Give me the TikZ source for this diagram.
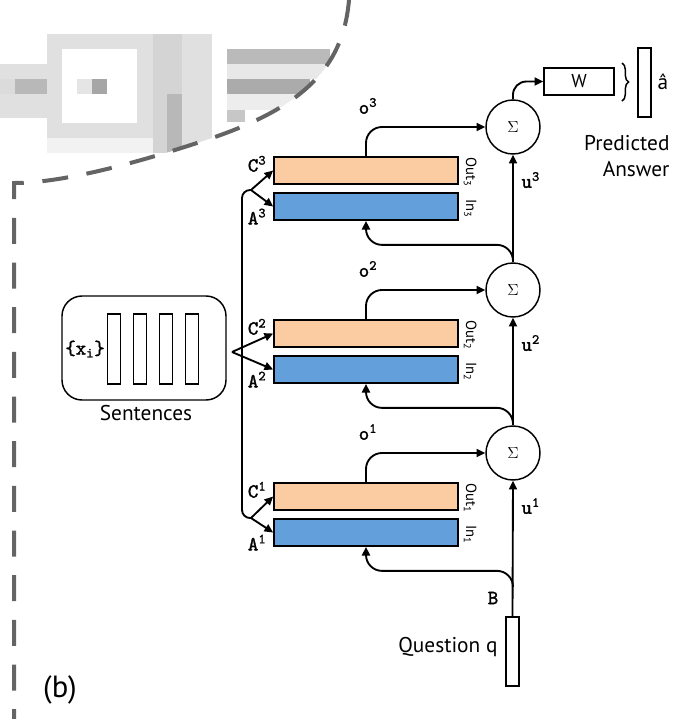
\documentclass[tikz,border=0pt]{standalone}
\usepackage{fontspec}
\setmainfont{PT Sans}
\newfontfamily\monofont{lmmono10-regular.otf}[FakeBold=1.6]
\usetikzlibrary{arrows.meta,decorations.pathreplacing}

\definecolor{outfill}{RGB}{251,204,161}
\definecolor{infill}{RGB}{99,159,219}
\definecolor{dashgray}{RGB}{100,100,100}

\tikzset{every picture/.style={line width=0.75pt}}
\tikzset{
  conn/.style={line width=1.4pt},
  arr/.style={conn,-{Triangle[length=6.5pt,width=6pt]}},
  membox/.style={draw,line width=1.3pt,minimum width=138pt,minimum height=20.25pt,inner sep=0pt},
  outbox/.style={membox,fill=outfill},
  inbox/.style={membox,fill=infill},
  vecbar/.style={draw,line width=1.1pt,minimum width=9.75pt,minimum height=52.5pt,inner sep=0pt},
  sumnode/.style={draw,circle,line width=1.1pt,minimum size=40.5pt,inner sep=0pt,font=\fontsize{13}{15}\selectfont},
  monolbl/.style={font=\monofont\fontsize{15}{17}\selectfont,inner sep=0.75pt},
  sanslbl/.style={font=\fontsize{16}{20}\selectfont,inner sep=0.75pt},
  sidelbl/.style={font=\fontsize{11}{13}\selectfont,inner sep=0.75pt,rotate=-90},
}

\begin{document}
\begin{tikzpicture}[x=0.75pt,y=0.75pt,yscale=-1,xscale=1]
\useasboundingbox (0,0) rectangle (674,719);

%Blurred part of panel (a)
\begin{scope}
\clip (0,0) -- (349,0) .. controls (343,70) and (300,110) .. (200,142) .. controls (130,165) and (60,183) .. (14,183) -- (0,183) -- cycle;
\fill[black!12] (0,64) rectangle (47,118);
\fill[black!28] (15,79) rectangle (47,94);
\fill[black!14] (0,79) rectangle (15,94);
\fill[black!12] (47,34) rectangle (153,138);
\fill[white] (62,49) rectangle (137,123);
\fill[black!5] (47,138) rectangle (153,153);
\fill[black!10] (77,79) rectangle (92,94);
\fill[black!35] (92,79) rectangle (107,94);
\fill[black!17] (153,34) rectangle (182,153);
\fill[black!28] (167,94) rectangle (182,153);
\fill[black!12] (182,34) rectangle (212,153);
\fill[black!27] (227,49) rectangle (330,64);
\fill[black!9] (227,64) rectangle (330,79);
\fill[black!33] (227,79) rectangle (310,94);
\fill[black!7] (227,94) rectangle (300,110);
\fill[black!22] (227,110) rectangle (245,122);
\end{scope}

%Dashed border of panel (b)
\draw[dashgray,line width=3pt,dash pattern=on 19.5pt off 14pt] (349,0) .. controls (343,70) and (300,110) .. (200,142) .. controls (130,165) and (60,183) .. (14,183) -- (14,719);

%Shape: Sentences
\node[draw,rounded corners=15pt,line width=1.1pt,minimum width=123pt,minimum height=78pt] (sent) at (144,348) {};
\foreach \i/\x in {1/114,2/140,3/166,4/192}
  \node[vecbar] (x\i) at (\x,349) {};
% Text Node
\node[monolbl] (xi) at (85,349) {\{x\textsubscript{i}\}};
% Text Node
\node[sanslbl] (sentlbl) at (146,413) {Sentences};

%Memory layers
\foreach \k/\y in {1/453,2/290,3/127} {
  \node[sumnode] (S\k) at (513,\y) {$\Sigma$};
  \node[outbox] (C\k) at (366,\y+43.5) {};
  \node[inbox] (A\k) at (366,\y+79.5) {};
  \node[monolbl] (Clbl\k) at ([xshift=-12pt,yshift=-5pt]C\k.west) {C\textsuperscript{\k}};
  \node[monolbl] (Albl\k) at ([xshift=-12pt,yshift=7.5pt]A\k.west) {A\textsuperscript{\k}};
  \node[sidelbl] (Olbl\k) at ([xshift=8.5pt,yshift=1pt]C\k.east) {Out\textsubscript{\k}};
  \node[sidelbl] (Ilbl\k) at ([xshift=8.5pt,yshift=1.5pt]A\k.east) {In\textsubscript{\k}};
  \node[monolbl] (olbl\k) at (368,\y-21) {o\textsuperscript{\k}};
  \node[monolbl,anchor=west] (ulbl\k) at (520,\y+53) {u\textsuperscript{\k}};
  % output o^k into the sum
  \draw[arr,rounded corners=12pt] (C\k.north) |- (S\k.west);
  % query u into the input memory
  \coordinate (br\k) at (513,\y+133);
  \draw[arr,rounded corners=12pt] (br\k) |- ([yshift=18pt]A\k.south) -- (A\k.south);
}

%Question
\node[vecbar,minimum height=51.75pt] (q) at (512.5,651.5) {};
% Text Node
\node[sanslbl,anchor=east] (qlbl) at (499,647) {Question q};
% Text Node
\node[monolbl] (Blbl) at (493,598) {B};
\draw[arr] (q.north) -- (S1.south);
\draw[arr] (S1.north) -- (S2.south);
\draw[arr] (S2.north) -- (S3.south);

%Embedding forks
\coordinate (fk3) at (251,190);
\coordinate (fk2) at (232,352);
\coordinate (fk1) at (251,518);
\coordinate (sp3) at (242,190);
\coordinate (sp1) at (242,518);
\draw[conn,rounded corners=6pt] (fk3) -- (sp3) -- (sp1) -- (fk1);
\foreach \k in {1,2,3} {
  \draw[arr] (fk\k) -- (C\k.west);
  \draw[arr] (fk\k) -- (A\k.west);
}

%Answer
\node[draw,line width=1.1pt,minimum width=52.5pt,minimum height=20.25pt,inner sep=0pt,font=\fontsize{14}{16}\selectfont] (W) at (579,81.5) {W};
\draw[arr,rounded corners=10pt] (S3.north) |- (W.west);
\coordinate (brtop) at (622,63);
\coordinate (brbot) at (622,101);
\draw[line width=1.1pt,decorate,decoration={brace,amplitude=5pt}] (brtop) -- (brbot);
\node[vecbar,minimum height=51.75pt] (ans) at (644.5,82.5) {};
% Text Node
\node[sanslbl] (ahat) at (663,82) {â};
% Text Node
\node[sanslbl,align=right,anchor=east] (pred) at (671,156) {Predicted\\Answer};

% Text Node
\node[font=\fontsize{23}{27}\selectfont] (panel) at (60,690) {(b)};

\end{tikzpicture}
\end{document}
